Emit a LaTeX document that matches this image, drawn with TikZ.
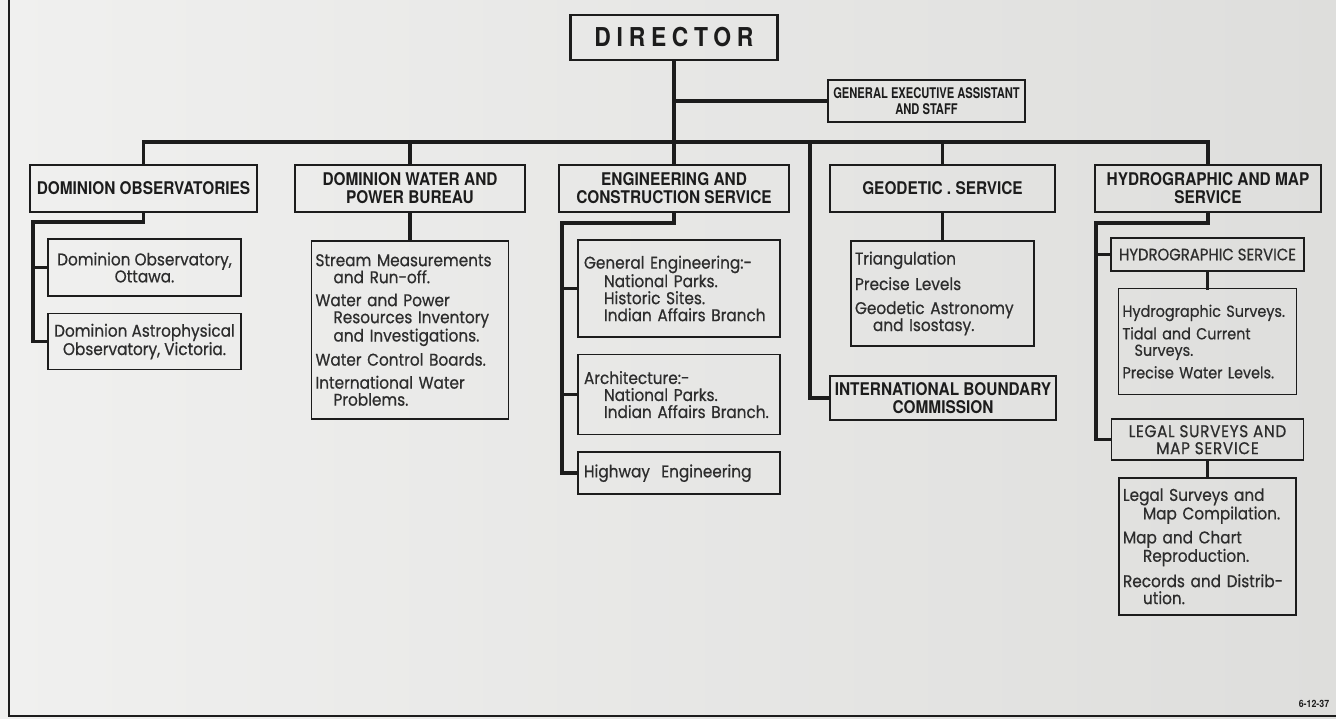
\documentclass[tikz,border=0pt]{standalone}
\usepackage{fontspec}
\setmainfont{Poppins}[FakeStretch=0.9, FakeBold=0.6]
\newfontfamily\headfont{TeX Gyre Heros}[FakeStretch=0.88]
\newfontfamily\narrowfont{TeX Gyre Heros}[FakeStretch=0.76]
\usetikzlibrary{positioning}

\definecolor{paperlight}{RGB}{240,240,239}
\definecolor{paper}{RGB}{222,222,220}
\definecolor{ink}{RGB}{28,28,28}
\definecolor{pencil}{RGB}{45,45,45}

\tikzset{
  unit/.style={draw=ink, line width=2.4pt, inner sep=3pt, text=ink, align=center,
    font=\headfont\bfseries\fontsize{17.5}{18}\selectfont},
  office/.style={draw=ink, line width=1.6pt, inner sep=4pt, text=pencil,
    font=\fontsize{17}{17}\selectfont},
  duties/.style={office, align=left},
  link/.style={draw=ink, line width=3.5pt, line cap=rect},
}

\begin{document}
\begin{tikzpicture}[x=1pt, y=-1pt, node distance=16pt]
  \useasboundingbox (0,0) rectangle (1336,719);
  % Paper and frame
  \shade[left color=paperlight, right color=paper] (0,0) rectangle (1336,719);
  \draw[ink, line width=2.5pt] (9,0) |- (1336,716);

  % Top
  \node[unit, minimum width=207pt, minimum height=45pt,
    font=\headfont\bfseries\fontsize{26}{26}\selectfont\addfontfeature{LetterSpace=22}] (dir) at (674,37.5) {DIRECTOR};
  \node[unit, minimum width=197pt, minimum height=42pt,
    font=\narrowfont\bfseries\fontsize{14.7}{15.5}\selectfont] (gea) at (926.5,101) {GENERAL EXECUTIVE ASSISTANT\\AND STAFF};

  % Branches
  \node[unit, minimum width=227pt, minimum height=47pt] (obs) at (143.5,188.5) {DOMINION OBSERVATORIES};
  \node[unit, minimum width=230pt, minimum height=47pt] (wat) at (410,188.5) {DOMINION WATER AND\\POWER BUREAU};
  \node[unit, minimum width=230pt, minimum height=47pt] (eng) at (674,188.5) {ENGINEERING AND\\CONSTRUCTION SERVICE};
  \node[unit, minimum width=225pt, minimum height=47pt] (geo) at (942.5,188.5) {GEODETIC . SERVICE};
  \node[unit, minimum width=226pt, minimum height=47pt] (hyd) at (1208,188.5) {HYDROGRAPHIC AND MAP\\SERVICE};
  \node[unit, minimum width=226pt, minimum height=44pt] (ibc) at (943,398) {INTERNATIONAL BOUNDARY\\COMMISSION};

  % Observatories
  \node[office, align=center, minimum width=193pt, minimum height=57pt] (obsott) at (144.5,267.5) {Dominion Observatory,\\Ottawa.};
  \node[office, align=center, minimum width=193pt, minimum height=56pt, below=of obsott] (obsvic) {Dominion Astrophysical\\Observatory, Victoria.};

  % Water and power
  \node[duties, text width=189pt, minimum height=178pt, below=27pt of wat] (watduty) {Stream Measurements\\
    \hspace*{18pt}and Run-off.\\[6pt]
    Water and Power\\
    \hspace*{18pt}Resources Inventory\\
    \hspace*{18pt}and Investigations.\\[6pt]
    Water Control Boards.\\[6pt]
    International Water\\
    \hspace*{18pt}Problems.};

  % Engineering
  \node[duties, text width=190pt, inner sep=6pt, minimum height=97pt] (enggen) at (679,288.5) {General Engineering:-\\
    \hspace*{20pt}National Parks.\\
    \hspace*{20pt}Historic Sites.\\
    \hspace*{20pt}Indian Affairs Branch};
  \node[duties, text width=190pt, inner sep=6pt, minimum height=80pt, below=of enggen] (engarch) {Architecture:-\\
    \hspace*{20pt}National Parks.\\
    \hspace*{20pt}Indian Affairs Branch.};
  \node[duties, text width=190pt, inner sep=6pt, minimum height=42pt, below=of engarch] (engroad) {Highway\ \ Engineering};

  % Geodetic
  \node[duties, text width=175pt, minimum height=105pt, below=27pt of geo] (geoduty) {Triangulation\\[7pt]
    Precise Levels\\[7pt]
    Geodetic Astronomy\\
    \hspace*{18pt}and Isostasy.};

  % Hydrographic and map
  \node[office, minimum width=193pt, minimum height=33pt,
    font=\fontsize{16.5}{17}\selectfont] (hs) at (1207.5,254.5) {HYDROGRAPHIC SERVICE};
  \node[duties, text width=170pt, minimum height=106pt, below=of hs,
    font=\fontsize{16}{16.5}\selectfont] (hsduty) {Hydrographic Surveys.\\[6pt]
    Tidal and Current\\
    \hspace*{12pt}Surveys.\\[6pt]
    Precise Water Levels.};
  \node[office, align=center, minimum width=192pt, minimum height=41pt, below=23pt of hsduty,
    font=\fontsize{17}{17}\selectfont\addfontfeature{LetterSpace=4}] (ls) {LEGAL SURVEYS AND\\MAP SERVICE};
  \node[duties, text width=169pt, minimum height=137pt, below=of ls] (lsduty) {Legal Surveys and\\
    \hspace*{20pt}Map Compilation.\\[7pt]
    Map and Chart\\
    \hspace*{20pt}Reproduction.\\[7pt]
    Records and Distrib-\\
    \hspace*{20pt}ution.};

  \node[text=ink, font=\headfont\bfseries\fontsize{10}{10}\selectfont] (date) at (1314,704) {6-12-37};

  % Lines
  \coordinate (bus) at (0,142);
  \draw[link] (dir.south) -- (eng.north);
  \draw[link] (dir.south |- gea.west) -- (gea.west);
  \draw[link] (obs.north |- bus) -- (hyd.north |- bus);
  \foreach \n in {obs,wat,geo,hyd}
    \draw[link] (\n.north |- bus) -- (\n.north);
  \coordinate (ibcdrop) at (810,142);
  \draw[link] (ibcdrop) |- (ibc.west);

  \coordinate (obsrail) at (33,222);
  \draw[link] (obs.south) |- (obsrail) |- (obsvic.west);
  \draw[link] (obsrail |- obsott.west) -- (obsott.west);

  \draw[link] (wat.south) -- (watduty.north);

  \coordinate (engrail) at (562,223);
  \draw[link] (eng.south) |- (engrail) |- (engroad.west);
  \foreach \n in {enggen,engarch}
    \draw[link] (engrail |- \n.west) -- (\n.west);

  \draw[link] (geo.south) -- (geoduty.north);

  \coordinate (hydrail) at (1096,223);
  \draw[link] (hyd.south) |- (hydrail) |- (ls.west);
  \draw[link] (hydrail |- hs.west) -- (hs.west);
  \draw[link] (hs.south) -- (hsduty.north);
  \draw[link] (ls.south) -- (lsduty.north);
\end{tikzpicture}
\end{document}
